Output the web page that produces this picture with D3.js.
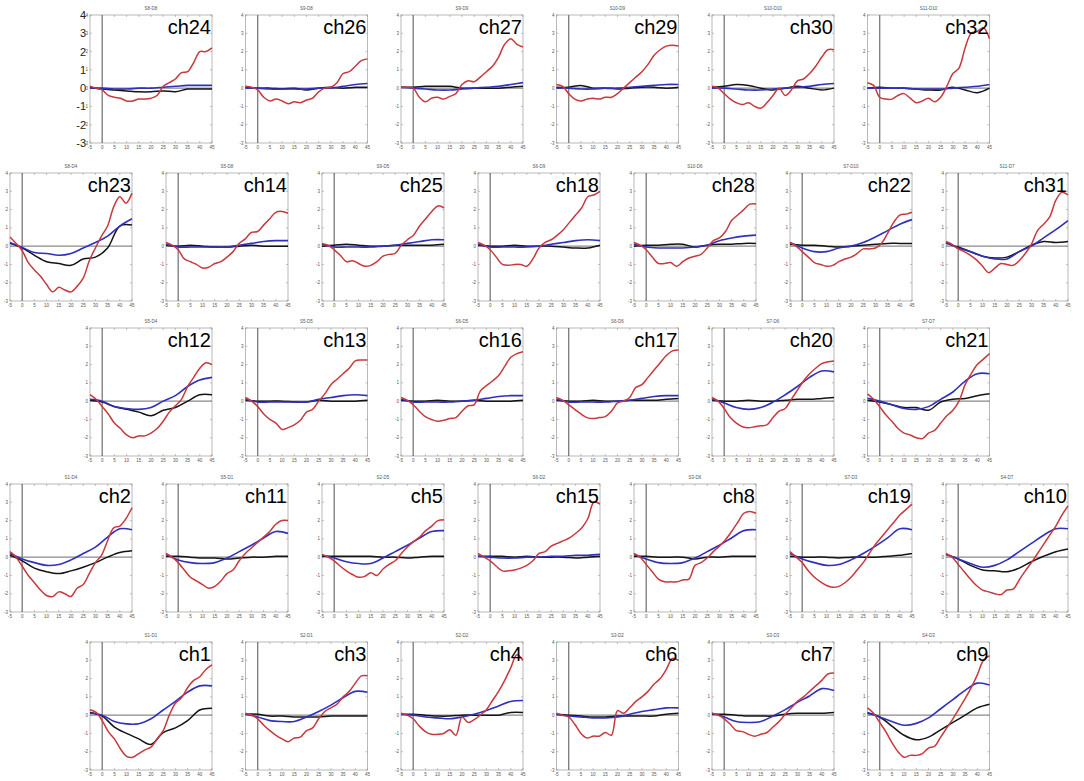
<!DOCTYPE html>
<html>
<head>
<meta charset="utf-8">
<script src="https://cdn.jsdelivr.net/npm/d3@7"></script>
<style>
  html, body { margin: 0; padding: 0; background: #fff; }
  svg { display: block; }
</style>
</head>
<body>
<svg id="chart" width="1084" height="781"></svg>
<script>
// ---------- DATA ----------
const channels = ["ch24","ch26","ch27","ch29","ch30","ch32",
  "ch23","ch14","ch25","ch18","ch28","ch22","ch31",
  "ch12","ch13","ch16","ch17","ch20","ch21",
  "ch2","ch11","ch5","ch15","ch8","ch19","ch10",
  "ch1","ch3","ch4","ch6","ch7","ch9"];
const probes = ["S8-D8","S9-D8","S9-D9","S10-D9","S10-D10","S11-D10",
  "S8-D4","S5-D8","S9-D5","S6-D9","S10-D6","S7-D10","S11-D7",
  "S5-D4","S5-D5","S6-D5","S6-D6","S7-D6","S7-D7",
  "S1-D4","S5-D1","S2-D5","S6-D2","S3-D6","S7-D3","S4-D7",
  "S1-D1","S2-D1","S2-D2","S3-D2","S3-D3","S4-D3"];
const rowSizes = [6, 7, 6, 7, 6];
const xTicks = [-5,0,5,10,15,20,25,30,35,40,45];
const yTicks = [-3,-2,-1,0,1,2,3,4];
const xFine = [-5,-2.5,0,2.5,5,7.5,10,12.5,15,17.5,20,22.5,25,27.5,30,32.5,35,37.5,40,42.5,45];
const xCoarse = [-5,0,5,10,15,20,25,30,35,40,45];

// red series (sampled at xFine)
const redValues = [
  [0.1,0,-0.1,-0.4,-0.5,-0.55,-0.7,-0.7,-0.6,-0.6,-0.55,-0.4,0.1,0.3,0.5,0.85,0.9,1.4,2.0,2.0,2.2],
  [0.1,0.05,-0.1,-0.5,-0.7,-0.6,-0.7,-0.85,-0.75,-0.8,-0.65,-0.55,-0.2,0,0.05,0.3,0.8,0.9,1.2,1.5,1.6],
  [0.05,0.05,0,-0.5,-0.75,-0.55,-0.5,-0.6,-0.45,-0.3,0.2,0.4,0.35,0.6,0.9,1.2,1.7,2.4,2.7,2.4,2.25],
  [0.2,0.1,-0.3,-0.6,-0.7,-0.6,-0.55,-0.6,-0.5,-0.5,-0.3,0,0.3,0.6,0.9,1.3,1.8,2.1,2.3,2.35,2.3],
  [0.1,0,-0.3,-0.6,-0.8,-0.9,-0.8,-1.0,-1.1,-0.8,-0.4,0.0,-0.4,-0.1,0.4,0.5,0.8,1.2,1.7,2.1,2.1],
  [0.3,0.15,-0.5,-0.6,-0.6,-0.4,-0.3,-0.55,-0.8,-0.7,-0.55,-0.75,-0.5,0.1,0.8,1.1,2.2,3.0,3.1,3.3,2.7],
  [0.5,0.15,-0.25,-0.9,-1.3,-1.65,-2.1,-2.5,-2.25,-2.4,-2.5,-2.2,-1.75,-0.8,-0.1,0.55,1.1,2.15,2.7,2.35,2.9],
  [0.2,0.05,-0.2,-0.7,-0.85,-1.0,-1.2,-1.15,-0.95,-0.85,-0.6,-0.3,0.15,0.4,0.75,0.8,1.15,1.5,1.85,1.9,1.8],
  [0.15,0.05,-0.2,-0.5,-0.85,-0.8,-0.95,-1.1,-1.05,-0.85,-0.55,-0.45,-0.4,0.05,0.35,0.6,1.1,1.5,1.9,2.2,2.1],
  [0.2,0.05,-0.2,-0.6,-1.0,-1.05,-1.0,-1.0,-1.1,-0.7,-0.1,0.2,0.35,0.6,0.9,1.3,1.7,2.1,2.7,2.8,3.0],
  [0.2,0.05,-0.2,-0.6,-0.95,-0.95,-0.9,-1.1,-0.85,-0.65,-0.55,-0.45,-0.1,0.3,0.45,0.8,1.4,1.7,2.0,2.3,2.3],
  [0.2,0,-0.3,-0.6,-0.9,-1.0,-1.1,-1.05,-0.85,-0.7,-0.6,-0.4,-0.15,-0.15,-0.1,0.15,0.7,1.3,1.7,1.75,1.85],
  [0.25,0.1,-0.15,-0.3,-0.5,-0.75,-1.1,-1.45,-1.2,-0.95,-1.0,-1.05,-0.8,-0.4,0.1,0.85,1.2,1.6,2.5,2.95,2.8],
  [0.35,0.1,-0.3,-0.7,-1.2,-1.5,-1.85,-2.0,-1.9,-1.9,-1.75,-1.5,-1.1,-0.6,-0.25,0.1,0.8,1.3,1.8,2.1,2.0],
  [0.2,0,-0.3,-0.7,-1.0,-1.2,-1.55,-1.45,-1.3,-1.05,-0.6,-0.45,0.0,0.4,0.9,1.2,1.5,1.8,2.2,2.25,2.25],
  [0.2,0.05,-0.2,-0.55,-0.85,-1.0,-1.1,-1.05,-0.95,-0.9,-0.55,-0.25,-0.2,0.55,0.85,1.1,1.4,1.9,2.4,2.6,2.7],
  [0.2,0.05,-0.2,-0.45,-0.7,-0.9,-0.95,-0.9,-0.85,-0.55,-0.1,0.0,0.2,0.75,0.9,1.3,1.7,2.1,2.5,2.75,2.8],
  [0.2,0,-0.4,-0.9,-1.2,-1.4,-1.45,-1.4,-1.35,-1.3,-0.9,-0.55,-0.4,0.1,0.6,1.1,1.5,1.8,2.05,2.15,2.2],
  [0.4,0.1,-0.3,-0.75,-1.1,-1.5,-1.75,-1.85,-2.0,-2.05,-1.75,-1.6,-1.2,-0.8,-0.5,0.0,0.9,1.5,2.0,2.3,2.6],
  [0.3,0,-0.5,-1.0,-1.4,-1.8,-2.1,-2.15,-1.9,-2.0,-2.15,-1.7,-1.5,-0.9,-0.3,0.1,0.9,1.6,1.7,2.1,2.7],
  [0.2,0,-0.3,-0.7,-1.1,-1.3,-1.5,-1.7,-1.6,-1.3,-0.9,-0.7,-0.2,0.2,0.5,0.8,1.1,1.4,1.8,2.0,2.0],
  [0.15,0,-0.2,-0.5,-0.75,-0.95,-1.1,-1.05,-0.85,-1.0,-0.65,-0.4,-0.2,0.2,0.55,0.85,1.1,1.45,1.7,2.0,2.05],
  [0.2,0,-0.2,-0.5,-0.75,-0.75,-0.7,-0.6,-0.45,-0.2,0.2,0.3,0.6,0.75,0.9,1.05,1.3,1.6,2.1,3.0,2.9],
  [0.2,0,-0.4,-0.8,-1.2,-1.35,-1.35,-1.35,-1.25,-1.2,-0.45,-0.3,-0.05,0.3,0.6,0.95,1.4,1.9,2.4,2.5,2.4],
  [0.3,0,-0.3,-0.75,-1.1,-1.35,-1.55,-1.65,-1.6,-1.4,-1.1,-0.7,-0.3,0.2,0.7,1.1,1.5,1.9,2.3,2.6,2.9],
  [0.2,0,-0.4,-0.8,-1.2,-1.55,-1.8,-1.9,-2.0,-2.05,-1.8,-1.75,-1.25,-0.75,-0.3,0.2,0.7,1.2,1.7,2.3,2.8],
  [0.3,0.15,-0.3,-0.9,-1.3,-1.85,-2.25,-2.3,-2.1,-1.9,-1.75,-1.3,-0.85,0.0,0.65,0.95,1.5,1.9,2.1,2.5,2.75],
  [0.1,0,-0.2,-0.55,-0.85,-1.1,-1.3,-1.45,-1.25,-1.2,-0.85,-0.7,-0.2,0.2,0.4,0.6,1.0,1.3,1.75,2.15,2.15],
  [0.1,0,-0.2,-0.6,-0.9,-1.05,-1.05,-1.0,-0.8,-1.1,-0.1,-0.4,-0.25,0.0,0.3,0.8,1.3,1.9,2.6,3.3,3.0],
  [0.1,0,-0.1,-0.5,-1.0,-1.25,-1.15,-1.15,-0.95,-1.1,0.25,0.1,0.4,0.75,1.0,1.3,1.7,2.0,2.5,3.1,3.0],
  [0.1,0,-0.2,-0.5,-0.85,-0.9,-1.05,-1.15,-1.05,-0.95,-0.65,-0.35,0.05,0.4,0.75,1.0,1.3,1.6,1.9,2.25,2.3],
  [0.4,0.1,-0.4,-0.9,-1.5,-2.0,-2.3,-2.2,-2.2,-2.1,-1.8,-1.7,-1.2,-0.7,-0.2,0.35,0.9,1.5,2.2,3.0,3.25]
];
// blue series (sampled at xCoarse)
const blueValues = [
  [0,0,-0.05,-0.05,0,0,0.05,0.1,0.15,0.15,0.15],
  [0,0,-0.05,-0.05,-0.05,-0.05,0,0,0.1,0.2,0.25],
  [0.05,0,-0.05,-0.1,-0.1,-0.05,0,0.05,0.1,0.2,0.3],
  [0,0,-0.05,-0.05,0,0,0.05,0.1,0.15,0.2,0.2],
  [0,0,-0.05,-0.1,-0.1,-0.05,0,0.05,0.1,0.2,0.25],
  [0,0,0,0,-0.05,-0.05,-0.05,0,0.05,0.1,0.2],
  [0.2,-0.07,-0.35,-0.4,-0.5,-0.4,-0.1,0.2,0.55,1.1,1.5],
  [0.1,-0.05,-0.05,-0.05,-0.05,-0.05,0.05,0.15,0.25,0.3,0.3],
  [0.1,-0.05,-0.05,-0.05,-0.05,0,0.05,0.15,0.25,0.35,0.35],
  [0.1,-0.05,-0.05,-0.05,-0.05,0,0.1,0.2,0.3,0.35,0.3],
  [0.1,-0.05,-0.1,-0.1,-0.1,-0.05,0.05,0.3,0.45,0.55,0.6],
  [0.2,-0.1,-0.3,-0.3,-0.1,0,0.2,0.5,0.85,1.2,1.45],
  [0.2,-0.1,-0.3,-0.55,-0.7,-0.7,-0.3,0,0.45,0.9,1.4],
  [0.1,0,-0.3,-0.4,-0.45,-0.35,0,0.3,0.8,1.15,1.3],
  [0.1,-0.05,-0.05,-0.05,-0.05,-0.05,0.1,0.2,0.3,0.35,0.3],
  [0.1,-0.05,-0.05,-0.05,-0.05,0,0.05,0.15,0.25,0.3,0.3],
  [0.1,-0.05,-0.05,-0.05,-0.05,0,0.05,0.15,0.25,0.3,0.3],
  [0.1,-0.1,-0.35,-0.45,-0.35,-0.05,0.35,0.8,1.3,1.65,1.6],
  [0.15,0,-0.2,-0.4,-0.45,-0.3,0.1,0.5,1.1,1.5,1.5],
  [0.2,-0.1,-0.3,-0.45,-0.4,-0.15,0.2,0.55,1.1,1.55,1.5],
  [0.15,-0.15,-0.3,-0.35,-0.3,-0.05,0.3,0.65,1.05,1.4,1.3],
  [0.1,-0.05,-0.25,-0.35,-0.35,-0.05,0.3,0.65,1.05,1.4,1.45],
  [0.05,0,-0.05,-0.05,0,0,0.05,0.05,0.1,0.1,0.15],
  [0.15,-0.1,-0.3,-0.35,-0.3,-0.05,0.3,0.65,1.05,1.45,1.5],
  [0.2,-0.1,-0.3,-0.45,-0.4,-0.15,0.2,0.6,1.05,1.55,1.5],
  [0.15,-0.1,-0.35,-0.55,-0.45,-0.15,0.3,0.75,1.2,1.55,1.55],
  [0.1,0,-0.35,-0.48,-0.47,-0.2,0.28,0.75,1.26,1.6,1.6],
  [0.05,-0.1,-0.3,-0.35,-0.35,-0.1,0.2,0.55,0.95,1.3,1.25],
  [0.05,0,-0.1,-0.15,-0.2,-0.1,0.05,0.25,0.5,0.75,0.8],
  [0.05,-0.05,-0.1,-0.15,-0.15,-0.1,0.05,0.2,0.3,0.4,0.4],
  [0.1,-0.1,-0.35,-0.4,-0.35,-0.05,0.3,0.7,1.05,1.45,1.35],
  [0.15,-0.1,-0.35,-0.55,-0.45,-0.15,0.35,0.85,1.35,1.75,1.65]
];
// black series (sampled at xCoarse)
const blackValues = [
  [0.05,-0.05,-0.1,-0.15,-0.2,-0.2,-0.15,-0.2,-0.05,-0.05,-0.05],
  [0.05,0,0,-0.05,0,-0.1,0,0.05,0,0.05,0.05],
  [0.05,0.05,0.1,0.1,0.1,0,0,0,0,0.05,0.1],
  [0.05,0.05,0.15,0,0,-0.05,0,0.05,0.05,0,0.05],
  [0.05,0.1,0.2,0.15,0,-0.1,0,0.1,0,-0.1,0],
  [0,0.05,0,0,-0.05,-0.1,-0.1,0.05,-0.1,-0.25,0],
  [0.15,-0.1,-0.5,-0.85,-0.95,-1.05,-0.7,-0.6,-0.1,1.1,1.15],
  [0.05,0,0.05,0,-0.05,-0.05,0,0.05,0,0,0],
  [0,0.05,0.1,0.05,0,0,0.05,0.05,0.05,0.05,0.1],
  [0.05,0,0,0.05,0,0,0,-0.05,-0.1,-0.1,0.05],
  [0,0.05,0.05,0.1,0.1,-0.05,0.05,0.1,0.1,0.15,0.15],
  [0.1,0.05,0.05,0,-0.05,0,0.05,0.1,0.15,0.15,0.15],
  [0.15,-0.05,-0.3,-0.55,-0.65,-0.6,-0.3,0.05,0.25,0.2,0.25],
  [0.05,-0.05,-0.3,-0.45,-0.6,-0.8,-0.5,-0.35,0.0,0.35,0.35],
  [0.05,0,0,0,-0.05,-0.05,0.05,0,0,0,0.05],
  [0.05,0,0,0.05,0,0,0.05,0,0,0,0.05],
  [0.05,0,0,0.05,0,0,0.05,0.05,0.05,0.1,0.15],
  [0.05,0,0,0.05,0,0,0.05,0.1,0.1,0.15,0.2],
  [0.05,-0.05,-0.2,-0.35,-0.35,-0.5,-0.05,0.1,0.15,0.3,0.4],
  [0.1,-0.2,-0.6,-0.8,-0.9,-0.75,-0.55,-0.3,0.0,0.25,0.35],
  [0.05,0.05,0,-0.05,-0.05,-0.1,-0.05,0,0,0.05,0.05],
  [0.05,0.05,0.05,0.05,0.05,0,0,-0.05,0,0.05,0.05],
  [0.05,0.05,0.05,0,0.05,0,0,0,-0.05,0,0.05],
  [0.05,0.05,0,0,0,-0.1,0,0,0.05,0.05,0.05],
  [0.05,0,0,0,-0.05,0,0,0,0.05,0.1,0.2],
  [0.15,-0.1,-0.45,-0.7,-0.75,-0.8,-0.6,-0.25,0.05,0.3,0.45],
  [0.15,-0.05,-0.65,-1.0,-1.3,-1.6,-0.95,-0.7,-0.3,0.28,0.37],
  [0.05,0.05,-0.05,-0.05,-0.1,-0.1,-0.1,-0.05,-0.05,-0.05,-0.05],
  [0.05,0.05,0,-0.05,-0.05,0,0,0,0,0.15,0.15],
  [0.05,0,-0.05,-0.1,-0.1,-0.05,-0.05,-0.05,-0.05,0.05,0.1],
  [0.05,0.05,0,-0.05,-0.05,-0.05,0.05,0.1,0.1,0.1,0.15],
  [0.1,-0.1,-0.6,-1.1,-1.35,-1.2,-0.8,-0.4,0.0,0.4,0.6]
];

// ---------- LAYOUT ----------
const svg = d3.select("#chart");
svg.append("rect").attr("width", 1084).attr("height", 781).attr("fill", "#fff");

const rowTops = [15, 173, 328, 484, 642];
const panelW = 122, panelH = 128;
const colors = { red: "#c8383c", blue: "#2f2fc0", black: "#141414" };
const fontFam = "'Liberation Sans', Arial, sans-serif";

const x = d3.scaleLinear().domain([-5, 45]).range([0, panelW]);
const y = d3.scaleLinear().domain([-3, 4]).range([panelH, 0]);
const curve = d3.curveCatmullRom.alpha(0.5);

let idx = 0;
rowSizes.forEach((n, r) => {
  const start = n === 6 ? 90 : 10;
  const pitch = n === 6 ? 155.5 : 156;
  for (let c = 0; c < n; c++) {
    const i = idx++;
    const g = svg.append("g")
      .attr("transform", `translate(${start + c * pitch},${rowTops[r]})`);

    // frame
    g.append("rect").attr("width", panelW).attr("height", panelH)
      .attr("fill", "#fff").attr("stroke", "#a8a8a8").attr("stroke-width", 0.8);

    // inward ticks on four sides
    const tk = 2;
    g.selectAll(".xtb").data(xTicks).join("line")
      .attr("x1", d => x(d)).attr("x2", d => x(d))
      .attr("y1", panelH).attr("y2", panelH - tk)
      .attr("stroke", "#999").attr("stroke-width", 0.6);
    g.selectAll(".xtt").data(xTicks).join("line")
      .attr("x1", d => x(d)).attr("x2", d => x(d))
      .attr("y1", 0).attr("y2", tk)
      .attr("stroke", "#999").attr("stroke-width", 0.6);
    g.selectAll(".ytl").data(yTicks).join("line")
      .attr("x1", 0).attr("x2", tk)
      .attr("y1", d => y(d)).attr("y2", d => y(d))
      .attr("stroke", "#999").attr("stroke-width", 0.6);
    g.selectAll(".ytr").data(yTicks).join("line")
      .attr("x1", panelW).attr("x2", panelW - tk)
      .attr("y1", d => y(d)).attr("y2", d => y(d))
      .attr("stroke", "#999").attr("stroke-width", 0.6);

    // tiny tick labels
    g.selectAll(".xl").data(xTicks).join("text")
      .attr("x", d => x(d)).attr("y", panelH + 6)
      .attr("text-anchor", "middle")
      .attr("font-family", fontFam).attr("font-size", 4.5).attr("fill", "#555")
      .text(d => d);
    g.selectAll(".yl").data(yTicks).join("text")
      .attr("x", -2).attr("y", d => y(d) + 1.5)
      .attr("text-anchor", "end")
      .attr("font-family", fontFam).attr("font-size", 4.5).attr("fill", "#555")
      .text(d => d);

    // zero reference lines
    g.append("line").attr("x1", 0).attr("x2", panelW)
      .attr("y1", y(0)).attr("y2", y(0))
      .attr("stroke", "#8a8a8a").attr("stroke-width", 1.3);
    g.append("line").attr("x1", x(0)).attr("x2", x(0))
      .attr("y1", 0).attr("y2", panelH)
      .attr("stroke", "#7a7a7a").attr("stroke-width", 1.3);

    // series lines
    const lineFine = d3.line().x((d, k) => x(xFine[k])).y(d => y(d)).curve(curve);
    const lineCoarse = d3.line().x((d, k) => x(xCoarse[k])).y(d => y(d)).curve(curve);
    g.append("path").attr("d", lineCoarse(blackValues[i]))
      .attr("fill", "none").attr("stroke", colors.black).attr("stroke-width", 1.5);
    g.append("path").attr("d", lineCoarse(blueValues[i]))
      .attr("fill", "none").attr("stroke", colors.blue).attr("stroke-width", 1.6);
    g.append("path").attr("d", lineFine(redValues[i]))
      .attr("fill", "none").attr("stroke", colors.red).attr("stroke-width", 1.5);

    // probe title
    g.append("text").attr("x", panelW / 2).attr("y", -5)
      .attr("text-anchor", "middle")
      .attr("font-family", fontFam).attr("font-size", 4.5).attr("fill", "#555")
      .text(probes[i]);

    // channel label
    g.append("text").attr("x", panelW - 1).attr("y", 19)
      .attr("text-anchor", "end")
      .attr("font-family", fontFam).attr("font-size", 20).attr("fill", "#000")
      .text(channels[i]);

    // large y labels on first panel
    if (i === 0) {
      g.selectAll(".bigy").data(yTicks).join("text")
        .attr("x", -4).attr("y", d => y(d) + 4)
        .attr("text-anchor", "end")
        .attr("font-family", fontFam).attr("font-size", 11).attr("fill", "#222")
        .text(d => d);
    }
  }
});
</script>
</body>
</html>
